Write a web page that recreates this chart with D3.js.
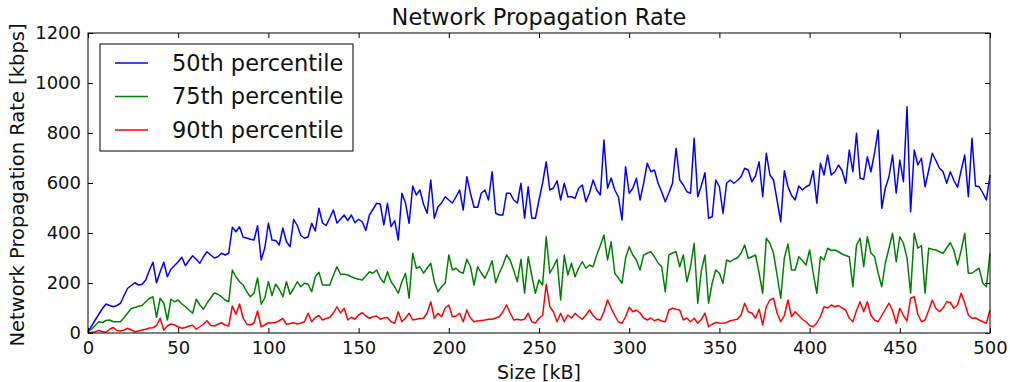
<!DOCTYPE html>
<html>
<head>
<meta charset="utf-8">
<script src="https://cdn.jsdelivr.net/npm/d3@7"></script>
<style>
  body { margin: 0; background: #fff; }
  svg { display: block; font-family: "DejaVu Sans", sans-serif; }
</style>
</head>
<body>
<div id="chart"></div>
<script>
// sample sizes in kB, one every 2 kB from 0 to 500
const sizes = d3.range(0, 501, 2);

const p50 = [5,28,52,75,98,116,110,105,110,119,150,179,190,201,192,195,212,250,283,201,245,283,225,255,270,
  285,303,269,290,309,295,279,305,325,312,300,305,319,312,319,423,405,425,383,380,375,372,429,292,340,
  439,372,370,352,420,365,345,455,430,390,379,385,439,408,499,440,430,460,492,440,455,472,450,472,441,
  455,445,410,472,495,519,516,432,519,425,450,372,559,519,439,588,552,572,515,479,612,459,505,520,545,
  532,520,545,572,492,625,559,503,503,559,572,532,645,479,472,472,559,559,532,520,599,459,585,459,459,
  532,600,685,572,580,609,532,599,545,545,539,579,592,525,560,612,572,552,772,579,620,572,545,452,665,
  559,579,619,532,599,679,645,652,599,565,525,560,599,739,612,592,565,559,779,545,590,641,459,465,612,
  585,479,599,612,599,610,625,659,652,605,628,685,545,719,632,612,530,445,649,585,550,532,588,572,585,
  592,649,519,679,632,712,632,645,672,650,599,732,645,799,619,615,705,645,720,812,499,580,625,712,559,
  692,605,905,485,732,672,699,585,650,719,690,659,645,599,645,610,583,650,712,545,779,588,585,560,532,632];

const p75 = [5,15,30,45,42,50,52,45,45,45,62,80,98,102,107,110,125,138,145,63,139,120,52,135,125,
  132,116,105,92,79,135,112,95,120,140,160,155,145,132,125,252,225,205,192,165,145,159,220,115,140,
  205,150,195,175,145,205,155,178,205,185,199,195,165,225,243,192,192,192,230,265,235,235,232,225,219,
  215,212,228,245,239,252,220,201,245,205,185,159,205,239,139,319,259,265,239,260,279,205,165,185,199,
  312,252,259,245,239,295,265,192,265,240,219,250,289,201,240,272,312,292,250,205,295,159,305,230,159,
  212,192,385,239,265,295,132,312,232,279,225,260,285,259,272,265,312,350,392,292,365,239,220,199,300,
  345,312,292,252,312,319,325,305,280,265,165,312,320,325,265,312,205,265,359,119,250,312,119,200,252,
  239,199,292,285,295,300,319,352,299,305,312,240,159,379,359,319,230,139,300,356,252,252,305,290,272,
  332,240,159,305,292,339,330,332,325,316,310,305,185,352,379,265,385,320,305,240,185,280,339,399,285,
  385,359,300,159,399,339,350,159,339,335,332,325,319,340,361,330,272,330,399,239,239,250,259,199,185,319];

const p90 = [2,3,5,10,5,3,15,22,10,8,12,19,12,5,8,12,15,20,21,30,59,12,28,36,32,
  25,19,22,28,31,15,25,35,49,30,28,35,41,32,28,108,75,116,60,35,32,40,88,25,32,
  41,40,42,49,58,35,38,41,36,40,45,79,45,62,70,52,58,62,80,105,80,99,52,63,55,
  72,81,68,59,65,68,55,60,62,45,39,85,45,60,79,52,55,58,59,80,125,59,79,65,100,
  112,65,68,79,45,92,60,45,48,50,52,55,55,60,65,85,112,80,52,55,52,55,79,45,40,
  59,70,195,105,85,45,79,45,72,60,79,65,55,72,92,70,55,52,85,132,99,70,45,39,65,
  103,85,92,80,60,52,60,49,55,48,45,92,99,95,92,52,60,45,59,39,55,79,25,35,42,
  40,39,42,49,52,55,72,119,85,80,59,95,32,105,132,139,79,45,70,132,65,85,70,55,45,
  30,25,40,65,105,100,112,105,110,100,92,59,45,90,125,85,125,70,52,45,70,95,119,90,39,
  99,70,49,139,145,75,45,52,90,132,99,85,100,125,122,99,112,159,120,72,59,60,52,45,39,92];

const series = [
  { name: "50th percentile", values: p50, color: "#0000ff" },
  { name: "75th percentile", values: p75, color: "#008000" },
  { name: "90th percentile", values: p90, color: "#ff0000" }
];

const xTicks = [0, 50, 100, 150, 200, 250, 300, 350, 400, 450, 500];
const yTicks = [0, 200, 400, 600, 800, 1000, 1200];

const width = 1010, height = 382;
const margin = { top: 33, right: 20, bottom: 49, left: 88 };
const innerW = width - margin.left - margin.right;
const innerH = height - margin.top - margin.bottom;

const svg = d3.select("#chart").append("svg")
  .attr("width", width)
  .attr("height", height);

const g = svg.append("g")
  .attr("transform", "translate(" + margin.left + "," + margin.top + ")");

const x = d3.scaleLinear().domain([0, 500]).range([0, innerW]);
const y = d3.scaleLinear().domain([0, 1200]).range([innerH, 0]);

// lines
const line = d3.line()
  .x((d, i) => x(sizes[i]))
  .y(d => y(d));

series.forEach(s => {
  g.append("path")
    .datum(s.values)
    .attr("fill", "none")
    .attr("stroke", s.color)
    .attr("stroke-width", 1.5)
    .attr("stroke-linejoin", "round")
    .attr("d", line);
});

// axes, ticks pointing inwards on all four sides
const tickLen = 5;
g.append("g").attr("transform", "translate(0," + innerH + ")")
  .call(d3.axisBottom(x).tickValues(xTicks).tickFormat(d3.format("d"))
    .tickSizeInner(-tickLen).tickSizeOuter(0).tickPadding(8));
g.append("g")
  .call(d3.axisLeft(y).tickValues(yTicks).tickFormat(d3.format("d"))
    .tickSizeInner(-tickLen).tickSizeOuter(0).tickPadding(7));
g.append("g")
  .call(d3.axisTop(x).tickValues(xTicks).tickSizeInner(-tickLen).tickSizeOuter(0).tickFormat(""));
g.append("g").attr("transform", "translate(" + innerW + ",0)")
  .call(d3.axisRight(y).tickValues(yTicks).tickSizeInner(-tickLen).tickSizeOuter(0).tickFormat(""));

g.selectAll(".domain").remove();
g.selectAll(".tick line").attr("stroke", "#000");
g.selectAll(".tick text")
  .attr("fill", "#111")
  .style("font-size", "18px")
  .style("font-family", "'DejaVu Sans', sans-serif");

// frame
g.append("rect")
  .attr("width", innerW)
  .attr("height", innerH)
  .attr("fill", "none")
  .attr("stroke", "#000")
  .attr("stroke-width", 1);

// title and labels
svg.append("text")
  .attr("x", margin.left + innerW / 2)
  .attr("y", 25)
  .attr("text-anchor", "middle")
  .style("font-size", "22.5px")
  .attr("fill", "#111")
  .text("Network Propagation Rate");

svg.append("text")
  .attr("x", margin.left + innerW / 2)
  .attr("y", 379)
  .attr("text-anchor", "middle")
  .style("font-size", "19px")
  .attr("fill", "#111")
  .text("Size [kB]");

svg.append("text")
  .attr("transform", "translate(24," + (margin.top + innerH / 2 + 2) + ") rotate(-90)")
  .attr("text-anchor", "middle")
  .style("font-size", "19.5px")
  .attr("fill", "#111")
  .text("Network Propagation Rate [kbps]");

// legend
const legend = g.append("g").attr("transform", "translate(12,11)");
legend.append("rect")
  .attr("width", 253)
  .attr("height", 107)
  .attr("fill", "#fff")
  .attr("stroke", "#000")
  .attr("stroke-width", 1);

const item = legend.selectAll(".item")
  .data(series)
  .enter().append("g")
  .attr("class", "item")
  .attr("transform", (d, i) => "translate(0," + (19 + i * 33.5) + ")");

item.append("line")
  .attr("x1", 15).attr("x2", 48)
  .attr("stroke", d => d.color)
  .attr("stroke-width", 1.5);

item.append("text")
  .attr("x", 72)
  .attr("dy", "0.35em")
  .style("font-size", "22.5px")
  .attr("fill", "#111")
  .text(d => d.name);
</script>
</body>
</html>
